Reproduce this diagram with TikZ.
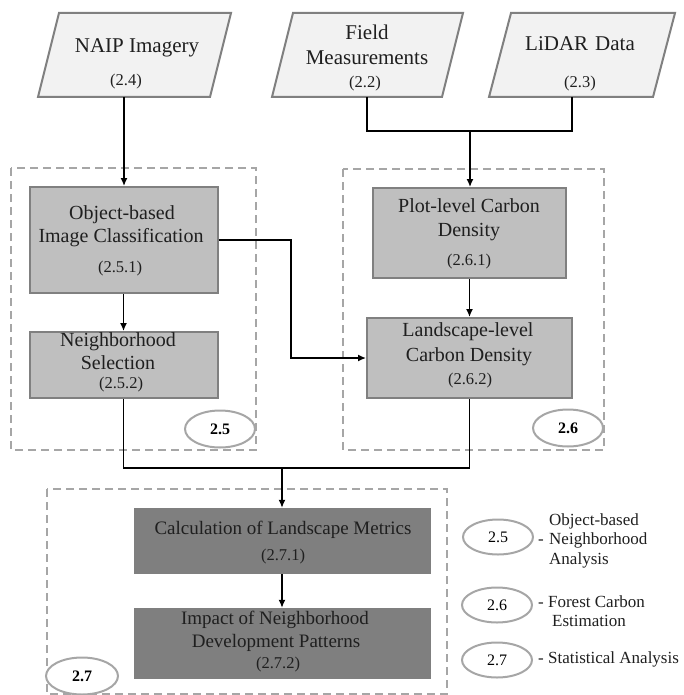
\documentclass[tikz,border=0pt]{standalone}
\usepackage{fontspec}
\setmainfont{Liberation Serif}
\usetikzlibrary{arrows.meta,shapes.geometric}
\definecolor{parfill}{HTML}{F2F2F2}
\definecolor{edgegray}{HTML}{808080}
\definecolor{midfill}{HTML}{BFBFBF}
\definecolor{darkfill}{HTML}{7F7F7F}
\definecolor{dashgray}{HTML}{A6A6A6}
\definecolor{txtdark}{HTML}{1F1F1F}
\newcommand\ftop{\fontsize{21}{25}\selectfont}
\newcommand\fmain{\fontsize{20}{24}\selectfont}
\newcommand\fnum{\fontsize{16.5}{19}\selectfont}
\newcommand\fcalc{\fontsize{19}{23}\selectfont}
\newcommand\fleg{\fontsize{17}{20}\selectfont}
\newcommand\fell{\fontsize{16}{19}\selectfont}
\begin{document}
\begin{tikzpicture}[x=1pt,y=-1pt,
  parallel/.style={fill=parfill,draw=edgegray,line width=2pt,line join=miter},
  midbox/.style={rectangle,draw=edgegray,fill=midfill,line width=2pt,inner sep=0pt},
  darkbox/.style={rectangle,fill=darkfill,draw=none,inner sep=0pt},
  region/.style={draw=dashgray,line width=2pt,dash pattern=on 8pt off 5pt},
  tag/.style={ellipse,draw=dashgray,line width=2pt,fill=white,minimum width=70pt,minimum height=37pt,inner sep=0pt},
  lbl/.style={anchor=mid,inner sep=0pt,text=txtdark},
  legl/.style={anchor=mid west,inner sep=0pt,text=txtdark,font=\fleg},
  conn/.style={line width=1.4pt,black},
  arr/.style={conn,-{Latex[length=8pt,width=7pt]}}
]
\useasboundingbox (0,0) rectangle (683,695);

% dashed regions
\draw[region] (11,168) rectangle (256,450);
\draw[region] (343,169) rectangle (604,450);
\draw[region] (47,489) rectangle (447,694);

% input parallelograms
\draw[parallel] (38,97) -- (210,97) -- (231,13) -- (59,13) -- cycle;
\draw[parallel] (272,97) -- (442,97) -- (463,13) -- (293,13) -- cycle;
\draw[parallel] (489,97) -- (653,97) -- (675,13) -- (511,13) -- cycle;
\coordinate (naipb) at (124,97);
\coordinate (fieldb) at (367,97);
\coordinate (lidarb) at (572,97);
\node[lbl,font=\ftop] (naipt) at (137,50) {NAIP Imagery};
\node[lbl,font=\fnum] (naipn) at (126,83) {(2.4)};
\node[lbl,font=\ftop] (fieldt1) at (367,37) {Field};
\node[lbl,font=\ftop] (fieldt2) at (367,62) {Measurements};
\node[lbl,font=\fnum] (fieldn) at (365,85) {(2.2)};
\node[lbl,font=\ftop] (lidart) at (580,48) {LiDAR\,\,Data};
\node[lbl,font=\fnum] (lidarn) at (580,85) {(2.3)};

% process boxes
\node[midbox,minimum width=188pt,minimum height=106pt] (obj) at (123.5,240) {};
\node[midbox,minimum width=188pt,minimum height=66pt] (nbr) at (123.5,365) {};
\node[midbox,minimum width=193pt,minimum height=90pt] (plot) at (469.5,233) {};
\node[midbox,minimum width=205pt,minimum height=80pt] (land) at (469.5,358) {};
\node[darkbox,minimum width=297pt,minimum height=66pt] (calc) at (282,541) {};
\node[darkbox,minimum width=297pt,minimum height=71pt] (imp) at (282,643.5) {};

\node[lbl,font=\fmain] (objt1) at (122,217) {Object-based};
\node[lbl,font=\fmain] (objt2) at (121,240) {Image Classification};
\node[lbl,font=\fnum] (objn) at (120,270) {(2.5.1)};
\node[lbl,font=\fmain] (nbrt1) at (118,344) {Neighborhood};
\node[lbl,font=\fmain] (nbrt2) at (118,367) {Selection};
\node[lbl,font=\fnum] (nbrn) at (121,386) {(2.5.2)};
\node[lbl,font=\fmain] (plott1) at (469,210) {Plot-level Carbon};
\node[lbl,font=\fmain] (plott2) at (469,234) {Density};
\node[lbl,font=\fnum] (plotn) at (469,263) {(2.6.1)};
\node[lbl,font=\fmain] (landt1) at (468,334) {Landscape-level};
\node[lbl,font=\fmain] (landt2) at (469,359) {Carbon Density};
\node[lbl,font=\fnum] (landn) at (470,382) {(2.6.2)};
\node[lbl,font=\fcalc] (calct) at (283,532) {Calculation of Landscape Metrics};
\node[lbl,font=\fnum] (calcn) at (283,558) {(2.7.1)};
\node[lbl,font=\fcalc] (impt1) at (275,622) {Impact of Neighborhood};
\node[lbl,font=\fcalc] (impt2) at (276,645) {Development Patterns};
\node[lbl,font=\fnum] (impn) at (278,666) {(2.7.2)};

% region tags
\node[tag,font=\fell\bfseries] (tag25) at (220,429) {2.5};
\node[tag,font=\fell\bfseries] (tag26) at (568,428) {2.6};
\node[tag,font=\fell\bfseries,minimum width=72pt] (tag27) at (82,676) {2.7};

% connectors
\coordinate (join1) at (470,131);
\coordinate (bend) at (291,300);
\coordinate (join2) at (282,468);
\draw[arr] (naipb) -- (naipb |- obj.north);
\draw[conn] (fieldb) |- (join1) -| (lidarb);
\draw[arr] (join1) -- (join1 |- plot.north);
\draw[arr] (obj.south) -- (nbr.north);
\draw[arr] (plot.south) -- (land.north);
\draw[arr] (obj.east) -| (bend) |- (land.west);
\draw[conn] (nbr.south) |- (join2) -| (land.south);
\draw[arr] (join2) -- (join2 |- calc.north);
\draw[arr] (calc.south) -- (imp.north);

% legend
\node[tag,font=\fell,minimum height=35pt] (leg25) at (498,537) {2.5};
\node[tag,font=\fell,minimum height=35pt] (leg26) at (497,605) {2.6};
\node[tag,font=\fell,minimum height=35pt] (leg27) at (497,660) {2.7};
\node[legl] (legd1) at (538,542) {-};
\node[legl] (legt1a) at (549,523) {Object-based};
\node[legl] (legt1b) at (549,542) {Neighborhood};
\node[legl] (legt1c) at (549,562) {Analysis};
\node[legl] (legt2a) at (538,605) {- Forest Carbon};
\node[legl] (legt2b) at (552,624) {Estimation};
\node[legl] (legt3) at (538,661) {- Statistical Analysis};
\end{tikzpicture}
\end{document}
